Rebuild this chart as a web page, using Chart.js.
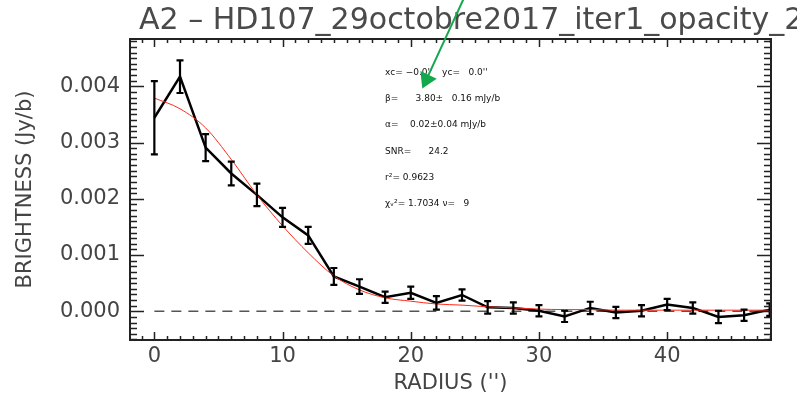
<!DOCTYPE html>
<html>
<head>
<meta charset="utf-8">
<script src="https://cdn.jsdelivr.net/npm/chart.js@4.4.0/dist/chart.umd.min.js"></script>
<style>
html,body{margin:0;padding:0;background:#fff;}
#wrap{width:797px;height:398px;position:relative;}
</style>
</head>
<body>
<div id="wrap"><canvas id="c" width="797" height="398"></canvas></div>
<script>
// ---- data ----
const chartTitle = "A2 – HD107_29octobre2017_iter1_opacity_2";
const xAxisTitle = "RADIUS ('')";
const yAxisTitle = "BRIGHTNESS (Jy/b)";
const radius = [0,2,4,6,8,10,12,14,16,18,20,22,24,26,28,30,32,34,36,38,40,42,44,46,48];
const brightness = [0.00344,0.00417,0.00291,0.00245,0.00207,0.00167,0.00135,0.00062,0.00044,0.00025,0.00033,0.00015,0.00029,0.00007,0.00006,0.00001,-0.00009,0.00006,-0.00002,0.00001,0.00012,0.00006,-0.00010,-0.00007,0.00003];
const brightnessErr = [0.00065,0.00029,0.00024,0.00021,0.00020,0.00017,0.00015,0.00015,0.00013,0.00010,0.00011,0.00012,0.00010,0.00011,0.00010,0.00010,0.00010,0.00011,0.00010,0.00010,0.00010,0.00010,0.00011,0.00010,0.00011];
const fitRadius = [0,2,4,6,8,10,12,14,16,18,20,22,24,26,28,30,32,34,36,38,40,42,44,46,48];
const fitBrightness = [0.00379,0.00360,0.00326,0.00270,0.00207,0.00152,0.00104,0.00063,0.00038,0.00024,0.00018,0.00013,0.00011,0.00008,0.00006,0.00004,0.00003,0.00003,0.00002,0.00002,0.00002,0.00002,0.00002,0.00002,0.00002];
const zeroLineX = [0,48];
const zeroLineY = [0,0];
const xTicks = [0,10,20,30,40];
const yTicks = [0.000,0.001,0.002,0.003,0.004];
const annotationLines = [
  ["xc= \u22120.0''", "yc=   0.0''"],
  ["\u03B2=      3.80\u00B1   0.16 mJy/b"],
  ["\u03B1=    0.02\u00B10.04 mJy/b"],
  ["SNR=      24.2"],
  ["r\u00B2= 0.9623"],
  ["\u03C7\u1D65\u00B2= 1.7034 \u03BD=   9"]
];
const arrowTip = {x: 20.9, y: 0.00396};

const toPts = (xs, ys) => xs.map((x, i) => ({x: x, y: ys[i]}));

const FONT = "'DejaVu Sans', sans-serif";
const INK = '#444';

const framePlugin = {
  id: 'frame',
  afterDraw(chart) {
    const ctx = chart.ctx, a = chart.chartArea;
    const xs = chart.scales.x, ys = chart.scales.y;
    ctx.save();
    // ticks (inward)
    ctx.strokeStyle = '#222';
    ctx.lineWidth = 1.5;
    ctx.beginPath();
    for (let v = -1; v <= 48; v++) {
      const px = Math.round(xs.getPixelForValue(v)) + 0.5;
      if (px < a.left || px > a.right) continue;
      const len = (v % 10 === 0) ? 8 : 4;
      ctx.moveTo(px, a.bottom); ctx.lineTo(px, a.bottom - len);
      ctx.moveTo(px, a.top); ctx.lineTo(px, a.top + len);
    }
    for (let k = -5; k <= 48; k++) {
      const v = k * 0.0001;
      const py = Math.round(ys.getPixelForValue(v)) + 0.5;
      if (py < a.top || py > a.bottom) continue;
      const len = (k % 10 === 0) ? 14 : 7;
      ctx.moveTo(a.left, py); ctx.lineTo(a.left + len, py);
      ctx.moveTo(a.right, py); ctx.lineTo(a.right - len, py);
    }
    ctx.stroke();
    // frame
    ctx.lineWidth = 2;
    ctx.strokeStyle = '#222';
    ctx.strokeRect(a.left, a.top, a.right - a.left, a.bottom - a.top);
    // title
    ctx.fillStyle = '#4a4a4a';
    ctx.font = "30px " + FONT;
    ctx.textBaseline = 'alphabetic';
    ctx.textAlign = 'left';
    ctx.fillText(chartTitle, 139, 29);
    // annotation text
    ctx.font = "9px " + FONT;
    ctx.fillStyle = '#111';
    const ax = xs.getPixelForValue(18);
    const ay = ys.getPixelForValue(0.00420);
    annotationLines.forEach((parts, i) => {
      const y = ay + i * 26.2;
      ctx.fillText(parts[0], ax, y);
      if (parts[1]) ctx.fillText(parts[1], ax + 57, y);
    });
    // green arrow
    const tx = xs.getPixelForValue(arrowTip.x), ty = ys.getPixelForValue(arrowTip.y);
    const dx = 41, dy = -89;
    const L = Math.hypot(dx, dy), ux = dx / L, uy = dy / L;
    ctx.strokeStyle = '#14a84e';
    ctx.fillStyle = '#14a84e';
    ctx.lineWidth = 2;
    ctx.beginPath();
    ctx.moveTo(tx + ux * 10, ty + uy * 10);
    ctx.lineTo(tx + dx * 1.2, ty + dy * 1.2);
    ctx.stroke();
    const hl = 15, hw = 9;
    const bx = tx + ux * hl, by = ty + uy * hl;
    ctx.beginPath();
    ctx.moveTo(tx, ty);
    ctx.lineTo(bx - uy * hw, by + ux * hw);
    ctx.lineTo(bx + uy * hw, by - ux * hw);
    ctx.closePath();
    ctx.fill();
    ctx.restore();
  }
};

const errorBarPlugin = {
  id: 'errbars',
  afterDatasetsDraw(chart) {
    const ctx = chart.ctx, xs = chart.scales.x, ys = chart.scales.y, a = chart.chartArea;
    ctx.save();
    ctx.beginPath();
    ctx.rect(a.left, a.top, a.right - a.left, a.bottom - a.top);
    ctx.clip();
    ctx.strokeStyle = '#000';
    ctx.lineWidth = 2.2;
    ctx.beginPath();
    radius.forEach((r, i) => {
      const px = xs.getPixelForValue(r);
      const y1 = ys.getPixelForValue(brightness[i] + brightnessErr[i]);
      const y2 = ys.getPixelForValue(brightness[i] - brightnessErr[i]);
      ctx.moveTo(px, y1); ctx.lineTo(px, y2);
      ctx.moveTo(px - 3.5, y1); ctx.lineTo(px + 3.5, y1);
      ctx.moveTo(px - 3.5, y2); ctx.lineTo(px + 3.5, y2);
    });
    ctx.stroke();
    ctx.restore();
  }
};

new Chart(document.getElementById('c'), {
  type: 'scatter',
  data: {
    datasets: [
      { data: toPts(zeroLineX, zeroLineY), showLine: true, borderColor: '#555', borderWidth: 1.5, borderDash: [10, 7], pointRadius: 0, order: 3 },
      { data: toPts(radius, brightness), showLine: true, borderColor: '#000', borderWidth: 2.5, pointRadius: 0, tension: 0, order: 2 },
      { data: toPts(fitRadius, fitBrightness), showLine: true, borderColor: '#ff2a1a', borderWidth: 1, pointRadius: 0, tension: 0.4, cubicInterpolationMode: 'monotone', order: 1 }
    ]
  },
  options: {
    responsive: false,
    animation: false,
    events: [],
    layout: { padding: { left: 13, right: 26, top: 39, bottom: 0 } },
    plugins: { legend: { display: false }, tooltip: { enabled: false }, title: { display: false } },
    scales: {
      x: {
        type: 'linear', min: -1.9, max: 48.1,
        afterBuildTicks: s => { s.ticks = xTicks.map(v => ({ value: v })); },
        afterFit: s => { s.height = 58; },
        grid: { display: false, drawTicks: false },
        border: { display: false },
        ticks: { color: INK, font: { family: FONT, size: 21 }, padding: 4, maxRotation: 0, callback: v => String(v) },
        title: { display: true, text: xAxisTitle, color: INK, font: { family: FONT, size: 21 }, padding: { top: 0, bottom: 2 } }
      },
      y: {
        type: 'linear', min: -0.00051, max: 0.00484,
        afterBuildTicks: s => { s.ticks = yTicks.map(v => ({ value: v })); },
        afterFit: s => { s.width = 117; },
        grid: { display: false, drawTicks: false },
        border: { display: false },
        ticks: { color: INK, font: { family: FONT, size: 21 }, padding: 10, callback: v => Number(v).toFixed(3) },
        title: { display: true, text: yAxisTitle, color: INK, font: { family: FONT, size: 21 }, padding: { top: 0, bottom: 0 } }
      }
    }
  },
  plugins: [framePlugin, errorBarPlugin]
});
</script>
</body>
</html>
